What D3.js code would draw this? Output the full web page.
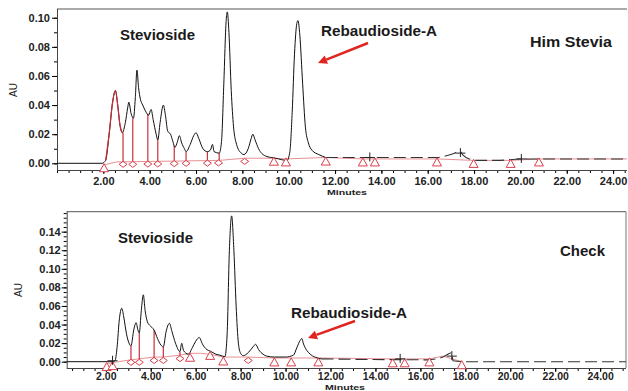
<!DOCTYPE html>
<html>
<head>
<meta charset="utf-8">
<script src="https://cdn.jsdelivr.net/npm/d3@7"></script>
<style>
  body { margin: 0; background: #fff; }
  svg { display: block; font-family: "Liberation Sans", Arial, sans-serif; }
</style>
</head>
<body>
<svg id="chart" width="628" height="391"></svg>
<script>
// Him Stevia trace: [minutes, AU]
const topTrace = [
  [0, 0], [1.95, 0], [2.1, 0.002], [2.25, 0.02], [2.4, 0.042], [2.52, 0.050], [2.62, 0.040],
  [2.72, 0.026], [2.82, 0.021], [2.95, 0.028], [3.05, 0.038], [3.10, 0.042], [3.2, 0.034],
  [3.3, 0.031], [3.38, 0.045], [3.45, 0.064], [3.52, 0.052], [3.6, 0.044], [3.7, 0.040],
  [3.85, 0.035], [3.95, 0.033], [4.06, 0.037], [4.15, 0.030], [4.28, 0.020], [4.35, 0.016],
  [4.45, 0.028], [4.59, 0.040], [4.68, 0.033], [4.78, 0.022], [4.9, 0.020], [5.0, 0.015],
  [5.09, 0.011], [5.2, 0.015], [5.28, 0.019], [5.38, 0.014], [5.5, 0.010], [5.57, 0.008],
  [5.75, 0.013], [5.9, 0.019], [6.0, 0.021], [6.12, 0.017], [6.3, 0.010], [6.49, 0.008],
  [6.62, 0.009], [6.71, 0.013], [6.78, 0.008], [7.0, 0.007], [7.1, 0.015], [7.2, 0.055],
  [7.3, 0.098], [7.35, 0.104], [7.42, 0.090], [7.52, 0.050], [7.62, 0.025], [7.75, 0.013],
  [7.95, 0.007], [8.07, 0.006], [8.25, 0.010], [8.38, 0.017], [8.45, 0.020], [8.55, 0.016],
  [8.7, 0.010], [9.0, 0.005], [9.43, 0.0035], [9.93, 0.002], [10.05, 0.008], [10.15, 0.035],
  [10.25, 0.075], [10.35, 0.096], [10.4, 0.098], [10.48, 0.088], [10.6, 0.055], [10.72, 0.025],
  [10.85, 0.014], [11.0, 0.009], [11.3, 0.006], [11.6, 0.004], [13.0, 0.004], [14.0, 0.004],
  [15.5, 0.004], [16.4, 0.004], [17.0, 0.006], [17.4, 0.008], [17.5, 0.006], [17.8, 0.003],
  [18.2, 0.002], [19.0, 0.002], [20.0, 0.003], [21.0, 0.003], [24.6, 0.003]
];
const topBaseline = [[2.03, -0.001], [2.6, 0.001], [5.0, 0.0015], [7.0, 0.002], [8.1, 0.0035],
  [9.36, 0.0035], [9.88, 0.003], [11.6, 0.004], [13.2, 0.003], [16.4, 0.003], [17.98, 0.002],
  [19.58, 0.002], [20.8, 0.003], [24.6, 0.003]];
const topTriangles = [[2.03, -0.001], [9.36, 0.0035], [9.88, 0.003], [11.6, 0.0036], [13.2, 0.003],
  [13.72, 0.003], [16.4, 0.003], [17.98, 0.002], [19.58, 0.002], [20.8, 0.003]];
const topDiamonds = [[2.85, 0.001], [3.27, 0.001], [3.92, 0.0012], [4.35, 0.0013], [5.06, 0.0015],
  [5.57, 0.0017], [6.49, 0.0018], [6.97, 0.002], [8.1, 0.003]];
const topDrops = [[2.85, 0.001, 0.021], [3.27, 0.001, 0.031], [3.92, 0.0012, 0.034],
  [4.35, 0.0013, 0.016], [5.06, 0.0015, 0.012], [5.57, 0.0017, 0.008], [6.49, 0.0018, 0.008],
  [7.0, 0.002, 0.007]];
const topCrosses = [[13.5, 0.004], [17.41, 0.007], [20.04, 0.003]];
const topRedPeak = topTrace.filter(d => d[0] >= 2.03 && d[0] <= 2.82);

// Check trace
const botTrace = [
  [0.26, 0], [2.3, 0], [2.41, 0.001], [2.5, 0.015], [2.6, 0.045], [2.71, 0.0575], [2.8, 0.048],
  [2.92, 0.030], [3.05, 0.019], [3.12, 0.017], [3.25, 0.035], [3.35, 0.042], [3.43, 0.034],
  [3.49, 0.031], [3.58, 0.055], [3.67, 0.072], [3.75, 0.055], [3.85, 0.043], [3.94, 0.0395],
  [4.05, 0.037], [4.15, 0.034], [4.3, 0.025], [4.45, 0.018], [4.56, 0.016], [4.68, 0.032],
  [4.83, 0.0413], [4.95, 0.032], [5.1, 0.020], [5.3, 0.011], [5.38, 0.0198], [5.46, 0.012],
  [5.67, 0.008], [5.85, 0.015], [6.0, 0.022], [6.16, 0.026], [6.3, 0.019], [6.5, 0.013],
  [6.64, 0.0115], [6.9, 0.008], [7.08, 0.007], [7.3, 0.0054], [7.4, 0.030], [7.5, 0.120],
  [7.6, 0.157], [7.7, 0.120], [7.8, 0.060], [7.9, 0.020], [8.0, 0.009], [8.12, 0.0065],
  [8.35, 0.010], [8.55, 0.016], [8.67, 0.0187], [8.8, 0.013], [9.0, 0.008], [9.16, 0.006],
  [9.5, 0.005], [10.0, 0.005], [10.35, 0.007], [10.5, 0.015], [10.65, 0.023], [10.72, 0.025],
  [10.8, 0.019], [10.95, 0.012], [11.1, 0.008], [11.3, 0.005], [11.6, 0.003], [16.3, 0.002],
  [17.0, 0.005], [17.4, 0.0097], [17.45, 0.001], [18.0, 0.0], [25.15, 0.0]
];
const botBaseline = [[2.04, -0.002], [2.3, -0.001], [3.12, 0.002], [4.15, 0.005], [4.56, 0.005],
  [5.3, 0.007], [5.75, 0.009], [6.2, 0.009], [6.64, 0.008], [7.23, 0.005], [8.34, 0.005],
  [9.5, 0.004], [10.25, 0.004], [11.5, 0.004], [14.77, 0.003], [16.4, 0.003], [17.0, 0.006],
  [17.84, 0.0]];
const botTriangles = [[2.04, -0.002], [2.3, -0.001], [5.75, 0.008], [6.64, 0.010], [7.23, 0.004],
  [9.5, 0.003], [10.25, 0.003], [11.46, 0.003], [14.77, 0.002], [15.3, 0.002], [16.4, 0.003],
  [17.84, 0.0]];
const botDiamonds = [[3.12, 0.002], [3.49, 0.002], [4.15, 0.004], [4.56, 0.004], [5.3, 0.006], [8.34, 0.004]];
const botDrops = [[3.12, 0.002, 0.017], [3.49, 0.002, 0.031], [4.15, 0.004, 0.034],
  [4.56, 0.004, 0.016], [5.3, 0.006, 0.011]];
const botCrosses = [[2.3, 0.001], [15.1, 0.003], [17.4, 0.006]];

const xMajor = [2, 4, 6, 8, 10, 12, 14, 16, 18, 20, 22, 24];
const topYTicks = [0, 0.02, 0.04, 0.06, 0.08, 0.10];
const botYTicks = [0, 0.02, 0.04, 0.06, 0.08, 0.10, 0.12, 0.14];

const svg = d3.select('#chart');
const red = '#d8404c';

function drawPanel(p) {
  const x = d3.scaleLinear().domain(p.xDomain).range([p.left, p.right]);
  const y = d3.scaleLinear().domain(p.yDomain).range([p.bottom, p.top]);
  const g = svg.append('g');

  // frame
  g.append('line').attr('x1', p.left).attr('x2', p.right).attr('y1', p.top).attr('y2', p.top)
    .attr('stroke', '#555');
  if (p.rightBorder) {
    g.append('line').attr('x1', p.right).attr('x2', p.right).attr('y1', p.top).attr('y2', p.bottom)
      .attr('stroke', '#777');
  }

  // axes, minor ticks first
  const minorX = d3.range(Math.ceil(p.xDomain[0] * 2) / 2, p.xDomain[1], 0.5);
  g.append('g').attr('transform', `translate(0,${p.bottom})`)
    .call(d3.axisBottom(x).tickValues(minorX).tickSize(3).tickFormat(''))
    .call(a => a.select('.domain').remove());
  const xa = g.append('g').attr('transform', `translate(0,${p.bottom})`)
    .call(d3.axisBottom(x).tickValues(xMajor).tickSize(4).tickPadding(p.xPad).tickFormat(d3.format('.2f')));
  xa.select('.domain').attr('stroke', '#444').attr('d', `M${p.left},0.5H${p.right}`);
  xa.selectAll('text').attr('font-size', p.xFont).attr('font-weight', 'bold').attr('fill', '#222');

  const minorY = d3.range(0, p.yDomain[1], p.yMinor);
  g.append('g').attr('transform', `translate(${p.left},0)`)
    .call(d3.axisLeft(y).tickValues(minorY).tickSize(3).tickFormat(''))
    .call(a => a.select('.domain').remove());
  const ya = g.append('g').attr('transform', `translate(${p.left},0)`)
    .call(d3.axisLeft(y).tickValues(p.yTicks).tickSize(5).tickPadding(p.yPad).tickFormat(d3.format('.2f')));
  ya.select('.domain').attr('stroke', '#444').attr('d', `M0.5,${p.top}V${p.bottom}`);
  ya.selectAll('text').attr('font-size', 11).attr('font-weight', 'bold').attr('fill', '#222');

  g.append('text').attr('transform', `translate(${p.auX},${p.auY}) rotate(-90)`)
    .attr('text-anchor', 'middle').attr('font-size', 10).attr('fill', '#222').text('AU');
  g.append('text').attr('x', p.minX).attr('y', p.minY).attr('text-anchor', 'middle')
    .attr('font-size', 8).attr('font-weight', 'bold').attr('fill', '#222')
    .attr('textLength', 40).attr('lengthAdjust', 'spacingAndGlyphs').text('Minutes');

  const line = d3.line().x(d => x(d[0])).y(d => y(d[1])).curve(d3.curveMonotoneX);

  // integration baseline
  g.append('path').datum(p.baseline).attr('d', d3.line().x(d => x(d[0])).y(d => y(d[1])))
    .attr('fill', 'none').attr('stroke', '#e89094').attr('stroke-width', 1);

  // drop lines
  g.selectAll('.drop').data(p.drops).join('line')
    .attr('x1', d => x(d[0])).attr('x2', d => x(d[0]))
    .attr('y1', d => y(d[1])).attr('y2', d => y(d[2]))
    .attr('stroke', '#c8303c').attr('stroke-width', 1.2);

  // trace
  g.append('path').datum(p.trace.filter(d => d[0] <= 11.6)).attr('d', line)
    .attr('fill', 'none').attr('stroke', '#111').attr('stroke-width', 1);
  g.append('path').datum(p.trace.filter(d => d[0] >= 11.6)).attr('d', line)
    .attr('fill', 'none').attr('stroke', '#333').attr('stroke-width', 1.1)
    .attr('stroke-dasharray', '12,5');
  if (p.redPeak) {
    g.append('path').datum(p.redPeak).attr('d', line)
      .attr('fill', 'none').attr('stroke', '#cc2a36').attr('stroke-width', 1.2);
  }

  // peak markers
  g.selectAll('.tri').data(p.triangles).join('path')
    .attr('transform', d => `translate(${x(d[0])},${y(d[1])})`)
    .attr('d', 'M0,-1L4.5,7H-4.5Z')
    .attr('fill', '#fff').attr('stroke', red).attr('stroke-width', 1);
  g.selectAll('.dia').data(p.diamonds).join('path')
    .attr('transform', d => `translate(${x(d[0])},${y(d[1])})`)
    .attr('d', 'M0,-0.5L4,2.5L0,5.5L-4,2.5Z')
    .attr('fill', '#fff').attr('stroke', red).attr('stroke-width', 1);
  g.selectAll('.cross').data(p.crosses).join('path')
    .attr('transform', d => `translate(${x(d[0])},${y(d[1])})`)
    .attr('d', 'M0,-5V4M-5,0H5')
    .attr('stroke', '#222').attr('stroke-width', 1);

  // labels
  p.labels.forEach(l => {
    g.append('text').attr('x', l[1]).attr('y', l[2]).attr('font-size', 14)
      .attr('font-weight', 'bold').attr('fill', '#1a1a1a')
      .attr('textLength', l[3]).attr('lengthAdjust', 'spacingAndGlyphs').text(l[0]);
  });

  // arrow
  const a = p.arrow;
  const ang = Math.atan2(a[3] - a[1], a[2] - a[0]);
  const hx = a[2] - 9 * Math.cos(ang), hy = a[3] - 9 * Math.sin(ang);
  g.append('line').attr('x1', a[0]).attr('y1', a[1]).attr('x2', hx).attr('y2', hy)
    .attr('stroke', '#e0241f').attr('stroke-width', 2.5);
  const px = -Math.sin(ang) * 4.5, py = Math.cos(ang) * 4.5;
  g.append('path').attr('d', `M${a[2]},${a[3]}L${hx + px},${hy + py}L${hx - px},${hy - py}Z`)
    .attr('fill', '#e0241f');
}

drawPanel({
  xDomain: [0, 24.6], yDomain: [-0.0046, 0.106],
  left: 57, right: 627, top: 9, bottom: 170, rightBorder: false,
  yTicks: topYTicks, yMinor: 0.01, xPad: 3, yPad: 2, xFont: 11,
  auX: 17, auY: 90, minX: 347, minY: 195,
  trace: topTrace, baseline: topBaseline, drops: topDrops, redPeak: topRedPeak,
  triangles: topTriangles, diamonds: topDiamonds, crosses: topCrosses,
  labels: [['Stevioside', 120, 40, 75], ['Rebaudioside-A', 321, 36, 116], ['Him Stevia', 530, 47, 82]],
  arrow: [368, 43, 318, 63]
});

drawPanel({
  xDomain: [0.26, 25.15], yDomain: [-0.0068, 0.1615],
  left: 66.7, right: 626, top: 211.7, bottom: 368, rightBorder: true,
  yTicks: botYTicks, yMinor: 0.005, xPad: 1, yPad: 1, xFont: 10.5,
  auX: 22, auY: 290, minX: 345, minY: 390,
  trace: botTrace, baseline: botBaseline, drops: botDrops, redPeak: null,
  triangles: botTriangles, diamonds: botDiamonds, crosses: botCrosses,
  labels: [['Stevioside', 118, 243, 75], ['Rebaudioside-A', 291, 318, 116], ['Check', 560, 256, 45]],
  arrow: [355, 321, 308, 338]
});
</script>
</body>
</html>
